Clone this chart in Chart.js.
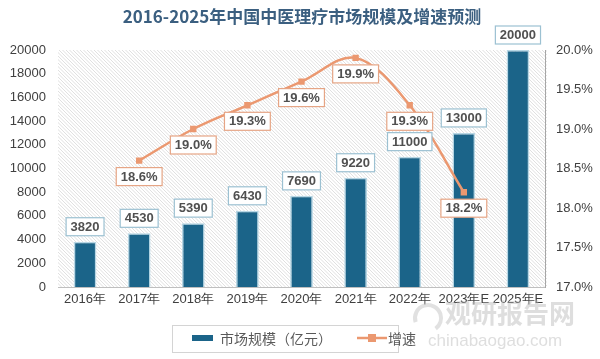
<!DOCTYPE html>
<html><head><meta charset="utf-8">
<script src="https://cdn.jsdelivr.net/npm/chart.js@4.4.0/dist/chart.umd.min.js"></script>
<style>html,body{margin:0;padding:0;background:#fff;}#wrap{width:600px;height:359px;position:relative;}</style>
</head><body><div id="wrap"><canvas id="c" width="600" height="359"></canvas></div>
<script>
const categories = ['2016年','2017年','2018年','2019年','2020年','2021年','2022年','2023年E','2025年E'];
const marketSize = [3820,4530,5390,6430,7690,9220,11000,13000,20000];
const growthRate = [null,18.6,19.0,19.3,19.6,19.9,19.3,18.2,null];
const leftTicks = [0,2000,4000,6000,8000,10000,12000,14000,16000,18000,20000];
const rightTicks = [17.0,17.5,18.0,18.5,19.0,19.5,20.0];
const titleText = '2016-2025年中国中医理疗市场规模及增速预测';
const legendBar = '市场规模（亿元）';
const legendLine = '增速';

const BAR = '#1b6489', LINE = '#eb9870';
const tickFont = {family:'Liberation Sans', size:13};

const deco = {
  id:'deco',
  beforeDraw(chart){
    const {ctx, chartArea:a} = chart;
    ctx.save();
    ctx.beginPath(); ctx.rect(a.left, a.top, a.right - a.left + 2, a.bottom - a.top); ctx.clip();
    ctx.strokeStyle = '#e0e0e0'; ctx.lineWidth = 1;
    const h = a.bottom - a.top;
    for (let x = a.left - h; x < a.right + 4; x += 3.5) {
      ctx.beginPath(); ctx.moveTo(x, a.top); ctx.lineTo(x + h, a.bottom); ctx.stroke();
    }
    ctx.restore();
    // title
    ctx.save();
    ctx.font = 'bold 17px "Noto Sans CJK SC"';
    ctx.fillStyle = '#3b5f80'; ctx.textAlign = 'center'; ctx.textBaseline = 'middle';
    ctx.fillText(titleText, 302, 17);
    ctx.restore();
  },
  afterDatasetsDraw(chart){
    const {ctx} = chart;
    ctx.save();
    ctx.font = 'bold 13px "Liberation Sans"';
    ctx.textAlign = 'center'; ctx.textBaseline = 'middle';
    const box = (cx, top, txt, border) => {
      const w = ctx.measureText(txt).width + 9, hh = 18;
      ctx.fillStyle = '#fff'; ctx.fillRect(cx - w/2, top, w, hh);
      ctx.strokeStyle = border; ctx.lineWidth = 1.2; ctx.strokeRect(cx - w/2, top, w, hh);
      ctx.fillStyle = '#505050'; ctx.fillText(txt, cx, top + hh/2 + 0.5);
    };
    const m0 = chart.getDatasetMeta(0);
    m0.data.forEach((el, i) => box(el.x, el.y - 24, String(marketSize[i]), '#9cc1d2'));
    const m1 = chart.getDatasetMeta(1);
    m1.data.forEach((el, i) => { if (growthRate[i] != null) box(el.x, el.y + 7, growthRate[i].toFixed(1) + '%', '#e6a585'); });
    ctx.restore();
  },
  afterDraw(chart){
    const {ctx} = chart;
    ctx.save();
    // legend
    ctx.strokeStyle = '#d4d4d4'; ctx.lineWidth = 1; ctx.strokeRect(172.5, 325.5, 226, 27);
    ctx.fillStyle = BAR; ctx.fillRect(192, 335, 21, 6);
    ctx.font = '14px "Noto Sans CJK SC"'; ctx.fillStyle = '#595959'; ctx.textBaseline = 'middle';
    ctx.fillText(legendBar, 220, 338.5);
    ctx.strokeStyle = LINE; ctx.lineWidth = 2.5; ctx.beginPath(); ctx.moveTo(357, 338); ctx.lineTo(387, 338); ctx.stroke();
    ctx.fillStyle = LINE; ctx.fillRect(368, 334, 8, 8);
    ctx.fillStyle = '#595959'; ctx.fillText(legendLine, 388, 338.5);
    // watermark
    ctx.globalAlpha = 0.45;
    ctx.fillStyle = '#b5b5b5';
    ctx.font = 'bold 26px "Noto Sans CJK SC"';
    ctx.fillText('观研报告网', 445, 313);
    ctx.font = '17px "Liberation Sans"';
    ctx.fillText('chinabaogao.com', 428, 341);
    ctx.strokeStyle = '#bdbdbd'; ctx.lineWidth = 4;
    ctx.beginPath(); ctx.arc(428, 318, 13, Math.PI*0.9, Math.PI*2.3); ctx.stroke();
    ctx.restore();
  }
};

new Chart(document.getElementById('c'), {
  data: {
    labels: categories,
    datasets: [
      {type:'bar', data: marketSize, yAxisID:'y', backgroundColor: BAR, borderColor:'#b7d6e4', borderWidth:1.5,
       barPercentage:0.84, categoryPercentage:0.5, order:2},
      {type:'line', data: growthRate, yAxisID:'y1', borderColor: LINE, backgroundColor: LINE, borderWidth:2.5,
       tension:0.35, pointStyle:'rect', pointRadius:4.5, pointBackgroundColor: LINE, pointBorderWidth:0, spanGaps:false, order:1}
    ]
  },
  options: {
    responsive:false, animation:false,
    layout:{padding:{top:50, bottom:47, left:0, right:0}},
    plugins:{legend:{display:false}, title:{display:false}, tooltip:{enabled:false}},
    scales:{
      x:{grid:{display:false, drawTicks:false}, border:{display:true, color:'#bfbfbf', width:1},
         ticks:{font:tickFont, color:'#404040', maxRotation:0, autoSkip:false, padding:5},
         afterFit(s){ s.height = 25; }},
      y:{position:'left', min:0, max:20000, grid:{display:false, drawTicks:false}, border:{display:false},
         afterBuildTicks(s){ s.ticks = leftTicks.map(v=>({value:v})); },
         ticks:{font:tickFont, color:'#404040', padding:12, callback:v=>String(v)},
         afterFit(s){ s.width = 58; }},
      y1:{position:'right', min:17, max:20, grid:{display:false, drawOnChartArea:false, drawTicks:true, tickLength:5, color:'#a6a6a6'},
         border:{display:true, color:'#a6a6a6'},
         afterBuildTicks(s){ s.ticks = rightTicks.map(v=>({value:v})); },
         ticks:{font:tickFont, color:'#404040', padding:6, callback:v=>Number(v).toFixed(1)+'%'},
         afterFit(s){ s.width = 55; }}
    }
  },
  plugins:[deco]
});
</script></body></html>
